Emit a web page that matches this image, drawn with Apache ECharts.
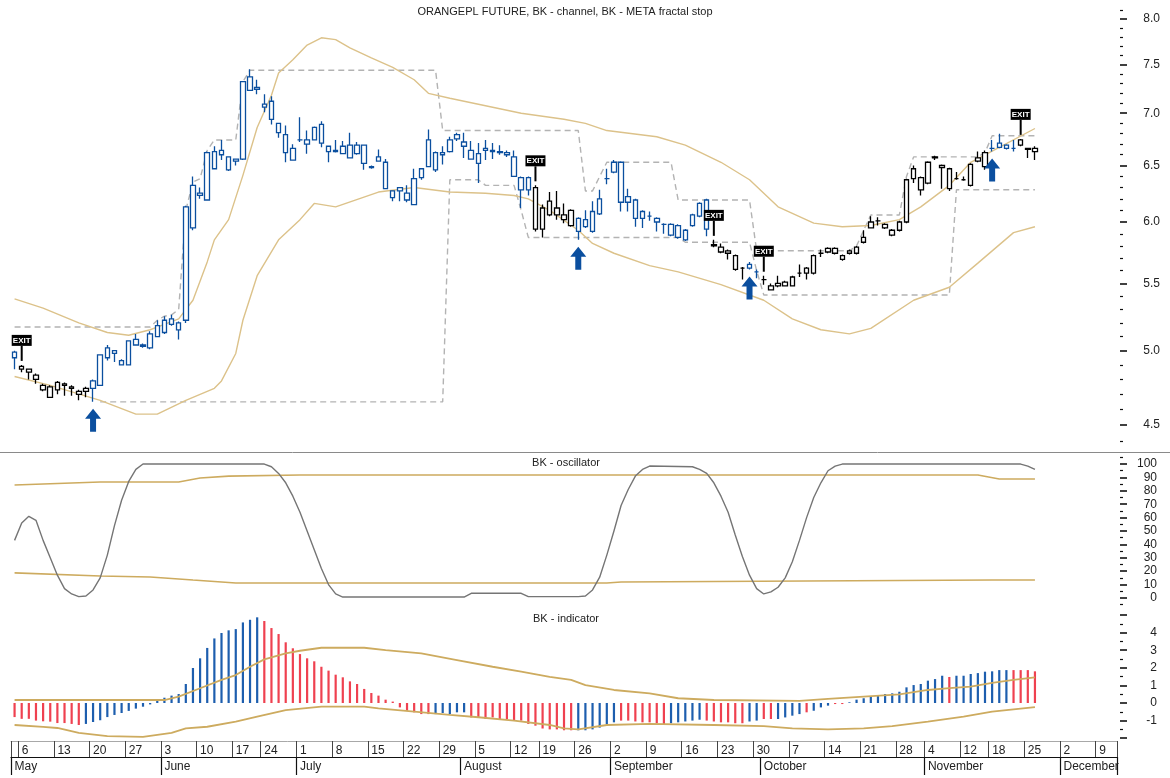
<!DOCTYPE html>
<html><head><meta charset="utf-8">
<script src="https://cdn.jsdelivr.net/npm/echarts@6/dist/echarts.min.js"></script>
<style>html,body{margin:0;padding:0;background:#fff}#c{width:1170px;height:778px}</style>
</head><body><div id="c"></div>
<script>
// ---------- calendar ----------
const firstDay = [2019, 4, 2];   // 2019-05-02
const lastDay  = [2019, 11, 11]; // 2019-12-11
const holidays = ['2019-05-03','2019-06-20','2019-08-15','2019-11-01','2019-11-11'];
const monthNames = ['January','February','March','April','May','June','July','August','September','October','November','December'];

// ---------- price data [open, high, low, close] ----------
const ohlc = [
[4.99,5.00,4.87,4.95],[4.87,4.90,4.85,4.89],[4.85,4.87,4.80,4.87],[4.80,4.84,4.77,4.83],[4.73,4.77,4.72,4.76],
[4.68,4.76,4.68,4.75],[4.73,4.79,4.70,4.78],[4.77,4.78,4.69,4.76],[4.75,4.76,4.69,4.74],[4.70,4.73,4.66,4.72],
[4.72,4.75,4.68,4.74],[4.74,4.80,4.65,4.79],[4.76,4.97,4.76,4.97],[4.95,5.04,4.93,5.02],[4.98,5.00,4.92,5.00],
[4.93,4.94,4.90,4.90],[4.90,5.07,4.90,5.07],[5.08,5.12,5.04,5.04],[5.04,5.05,5.02,5.03],[5.02,5.14,5.01,5.12],
[5.10,5.22,5.10,5.18],[5.13,5.25,5.12,5.22],[5.19,5.26,5.18,5.23],[5.20,5.21,5.08,5.15],[5.22,6.14,5.20,6.13],
[5.95,6.40,5.93,6.32],[6.23,6.30,6.20,6.25],[6.19,6.63,6.19,6.62],[6.47,6.68,6.47,6.63],[6.64,6.74,6.55,6.60],
[6.46,6.58,6.45,6.58],[6.54,6.56,6.50,6.56],[6.56,7.32,6.55,7.32],[7.37,7.45,7.23,7.23],[7.26,7.34,7.19,7.24],
[7.06,7.19,7.01,7.09],[7.12,7.17,6.89,6.94],[6.90,6.90,6.76,6.81],[6.79,6.88,6.53,6.62],[6.55,6.70,6.55,6.66],
[6.74,6.96,6.72,6.74],[6.70,6.83,6.61,6.74],[6.74,6.87,6.74,6.86],[6.89,6.92,6.67,6.71],[6.68,6.68,6.53,6.63],
[6.64,6.74,6.62,6.63],[6.61,6.73,6.61,6.68],[6.57,6.81,6.57,6.69],[6.61,6.72,6.60,6.69],[6.69,6.69,6.46,6.52],
[6.49,6.50,6.47,6.48],[6.58,6.65,6.54,6.54],[6.53,6.56,6.29,6.29],[6.27,6.27,6.18,6.21],[6.27,6.30,6.18,6.30],
[6.25,6.32,6.17,6.19],[6.15,6.47,6.15,6.38],[6.39,6.47,6.37,6.47],[6.74,6.84,6.49,6.49],[6.46,6.63,6.44,6.62],
[6.62,6.68,6.51,6.60],[6.63,6.77,6.62,6.74],[6.79,6.81,6.73,6.75],[6.72,6.81,6.57,6.68],[6.64,6.73,6.56,6.56],
[6.52,6.71,6.34,6.61],[6.64,6.74,6.55,6.66],[6.64,6.71,6.56,6.63],[6.63,6.69,6.60,6.62],[6.62,6.64,6.58,6.60],
[6.58,6.64,6.40,6.40],[6.28,6.40,6.12,6.39],[6.28,6.40,6.23,6.39],[6.30,6.32,5.92,5.94],[5.94,6.15,5.87,6.12],
[6.06,6.26,6.05,6.18],[6.12,6.27,6.02,6.06],[6.06,6.16,5.99,6.02],[6.10,6.11,5.96,5.97],[5.92,6.04,5.85,6.03],
[6.02,6.10,5.95,5.96],[5.92,6.18,5.91,6.09],[6.07,6.28,6.06,6.20],[6.38,6.47,6.33,6.38],[6.44,6.55,6.43,6.53],
[6.53,6.54,6.09,6.17],[6.22,6.29,6.09,6.17],[6.19,6.20,5.96,6.03],[6.03,6.10,5.95,6.09],[6.05,6.09,6.01,6.05],
[6.03,6.04,5.92,6.00],[5.98,5.99,5.90,5.98],[5.89,5.99,5.88,5.98],[5.97,5.98,5.86,5.87],[5.85,5.94,5.84,5.93],
[5.97,6.07,5.96,6.06],[6.05,6.17,6.04,6.16],[6.19,6.20,5.88,5.94],[5.81,5.85,5.79,5.80],[5.79,5.82,5.74,5.75],
[5.74,5.77,5.69,5.76],[5.72,5.73,5.60,5.61],[5.62,5.63,5.53,5.62],[5.62,5.67,5.61,5.65],[5.59,5.61,5.54,5.59],
[5.53,5.56,5.49,5.53],[5.45,5.50,5.45,5.48],[5.50,5.56,5.47,5.48],[5.51,5.52,5.48,5.48],[5.48,5.56,5.48,5.55],
[5.58,5.65,5.55,5.58],[5.62,5.63,5.53,5.58],[5.58,5.73,5.57,5.72],[5.74,5.77,5.71,5.74],[5.75,5.79,5.74,5.78],
[5.78,5.79,5.73,5.74],[5.69,5.73,5.68,5.72],[5.74,5.77,5.73,5.76],[5.74,5.80,5.73,5.79],[5.83,5.93,5.82,5.87],
[5.95,6.05,5.95,6.00],[6.01,6.04,5.97,6.01],[5.98,5.99,5.94,5.95],[5.93,5.94,5.88,5.89],[5.93,6.01,5.92,6.00],
[6.00,6.38,5.99,6.37],[6.47,6.50,6.34,6.38],[6.39,6.40,6.23,6.28],[6.34,6.54,6.33,6.53],[6.57,6.59,6.55,6.58],
[6.50,6.51,6.29,6.48],[6.47,6.48,6.27,6.29],[6.38,6.44,6.37,6.38],[6.37,6.40,6.36,6.37],[6.32,6.52,6.31,6.51],
[6.54,6.63,6.53,6.57],[6.49,6.64,6.46,6.62],[6.66,6.74,6.63,6.66],[6.71,6.80,6.66,6.67],[6.66,6.70,6.65,6.69],
[6.66,6.74,6.63,6.66],[6.74,6.75,6.68,6.69],[6.66,6.66,6.57,6.65],[6.63,6.68,6.55,6.66]
];
const blueRanges = [[0,0],[11,72],[79,97],[103,104],[137,140]];
const exitIdx = [1,73,98,105,141];
const buyIdx = [11,79,103,137];

// ---------- BK channel (price) [day index, value] ----------
const upperBand = [[0,5.38],[4,5.31],[9,5.20],[13,5.13],[16,5.11],[19,5.15],[21,5.19],[23,5.23],[25,5.37],[27,5.67],[28,5.85],[30,6.02],[32,6.41],[34,6.86],[36,7.18],[37,7.41],[39,7.55],[41,7.71],[43,7.79],[45,7.77],[47,7.68],[50,7.57],[53,7.47],[56,7.34],[58,7.20],[61,7.15],[65,7.09],[71,7.00],[77,6.94],[80,6.90],[83,6.83],[90,6.77],[94,6.69],[99,6.53],[103,6.37],[107,6.13],[112,5.99],[116,5.96],[120,5.97],[124,6.02],[127,6.13],[131,6.32],[134,6.53],[138,6.67],[143,6.85]];
const lowerBand = [[0,4.82],[5,4.76],[12,4.66],[17,4.57],[20,4.57],[24,4.66],[28,4.74],[29,4.79],[31,4.98],[32,5.22],[34,5.56],[37,5.85],[40,6.02],[42,6.16],[45,6.13],[51,6.26],[56,6.30],[61,6.26],[66,6.25],[70,6.23],[72,6.20],[75,6.10],[79,5.93],[81,5.82],[84,5.74],[89,5.64],[93,5.59],[99,5.49],[105,5.37],[109,5.23],[113,5.15],[117,5.12],[120,5.16],[126,5.37],[131,5.47],[135,5.66],[140,5.91],[143,5.96]];
// ---------- META fractal stop ----------
const upperStop = [[0,5.17],[19,5.17],[20,5.22],[21,5.25],[22,5.26],[23,5.30],[24,6.10],[25,6.35],[26,6.38],[27,6.64],[28,6.74],[31,6.74],[32,7.32],[33,7.44],[59,7.44],[60,6.83],[79,6.83],[80,6.27],[81,6.27],[82,6.40],[83,6.53],[92,6.53],[93,6.19],[103,6.19],[104,5.76],[117,5.76],[118,5.80],[119,5.93],[120,6.06],[124,6.06],[125,6.40],[126,6.58],[135,6.58],[136,6.62],[137,6.78],[143,6.78]];
const lowerStop = [[12,4.65],[60,4.65],[61,6.37],[65,6.37],[66,6.32],[70,6.32],[71,6.10],[72,5.87],[93,5.87],[94,5.83],[103,5.83],[104,5.60],[105,5.41],[131,5.41],[132,6.28],[143,6.28]];

// ---------- BK oscillator ----------
const oscillator = [[0,43],[1,56],[2,61],[3,58],[4,43],[5,30],[6,17],[7,7],[8,3],[9,1],[10,1.5],[11,6],[12,15],[13,32],[14,54],[15,73],[16,87],[17,96],[18,100],[35,100],[36,98],[37,93],[38,86],[39,76],[40,64],[41,50],[42,36],[43,22],[44,10],[45,3],[46,0.7],[63,0.7],[64,3.5],[71,3.5],[72,1],[79,1],[80,1.5],[81,6],[82,15.5],[83,32],[84,50],[85,69],[86,81],[87,91],[88,96],[89,98.5],[95,98],[96,96],[97,93],[98,86],[99,76],[100,64],[101,47],[102,31],[103,17],[104,7],[105,3],[106,4.5],[107,8],[108,15],[109,27],[110,43],[111,60],[112,75],[113,86],[114,95],[115,98.5],[116,100],[141,100],[142,98.5],[143,96]];
const oscUpper = [[0,84.3],[12,86.6],[23,86.6],[26,89.6],[30,91],[40,91.8],[135,91.8],[138,88.8],[143,88.8]];
const oscLower = [[0,18.7],[12,16.4],[19,15.7],[25,13.4],[31,11.2],[83,11.2],[85,11.9],[137,13.4],[143,13.4]];

// ---------- BK indicator ----------
const indicator = [
-0.8,-0.9,-0.9,-1.0,-1.04,-1.06,-1.14,-1.14,-1.19,-1.25,
-1.19,-1.08,-0.98,-0.80,-0.68,-0.57,-0.45,-0.32,-0.21,-0.08,
0.13,0.30,0.42,0.51,1.08,1.99,2.54,3.13,3.67,3.98,
4.13,4.20,4.58,4.73,4.87,4.66,4.26,3.92,3.45,3.11,
2.78,2.54,2.37,2.06,1.84,1.61,1.46,1.23,1.08,0.80,
0.57,0.42,0.19,0.08,-0.25,-0.44,-0.53,-0.63,-0.63,-0.63,
-0.57,-0.63,-0.53,-0.53,-0.82,-0.82,-0.91,-0.82,-0.91,-0.91,
-1.0,-1.0,-1.19,-1.29,-1.45,-1.5,-1.5,-1.55,-1.55,-1.55,
-1.55,-1.5,-1.4,-1.2,-1.1,-1.0,-1.0,-1.05,-1.1,-1.1,
-1.15,-1.2,-1.15,-1.1,-1.05,-1.0,-0.95,-1.0,-1.05,-1.1,
-1.1,-1.15,-1.15,-1.05,-1.0,-0.91,-0.91,-0.91,-0.82,-0.72,
-0.63,-0.53,-0.44,-0.25,-0.15,-0.06,-0.06,0.04,0.19,0.27,
0.38,0.45,0.51,0.55,0.64,0.89,1.02,1.08,1.27,1.36,
1.55,1.48,1.55,1.55,1.65,1.70,1.78,1.80,1.87,1.87,
1.87,1.87,1.87,1.80];
const indicatorColorRuns = [['r',10],['b',25],['r',24],['b',5],['r',15],['b',6],['r',7],['b',5],['r',6],['b',2],['r',2],['b',4],['r',1],['b',3],['r',2],['b',14],['r',1],['b',8],['r',4]];
const indUpper = [[0,0.17],[21,0.17],[23,0.36],[26,0.84],[29,1.31],[31,1.59],[33,2.06],[35,2.48],[38,2.82],[40,2.97],[43,3.14],[49,3.14],[52,3.0],[57,2.82],[62,2.44],[67,2.06],[71,1.78],[75,1.49],[78,1.31],[80,1.02],[84,0.74],[89,0.55],[93,0.27],[98,0.17],[110,0.12],[114,0.24],[124,0.49],[128,0.74],[131,0.85],[134,0.93],[137,1.14],[140,1.31],[143,1.46]];
const indLower = [[0,-1.25],[4,-1.36],[6,-1.42],[9,-1.7],[13,-1.88],[18,-1.93],[22,-1.7],[24,-1.44],[27,-1.35],[31,-1.06],[34,-0.78],[38,-0.40],[43,-0.21],[49,-0.21],[51,-0.3],[56,-0.49],[61,-0.68],[65,-0.81],[70,-1.0],[75,-1.25],[77,-1.44],[79,-1.5],[83,-1.25],[89,-1.19],[98,-1.25],[105,-1.31],[109,-1.44],[114,-1.5],[119,-1.44],[123,-1.31],[128,-1.06],[133,-0.78],[137,-0.49],[143,-0.24]];

// ---------- axis ticks ----------
const priceLabels = ['4.5','5.0','5.5','6.0','6.5','7.0','7.5','8.0'];
const priceMinor = ['4.4','4.6','4.7','4.8','4.9','5.1','5.2','5.3','5.4','5.6','5.7','5.8','5.9','6.1','6.2','6.3','6.4','6.6','6.7','6.8','6.9','7.1','7.2','7.3','7.4','7.6','7.7','7.8','7.9','8.1'];
const oscLabels = [0,10,20,30,40,50,60,70,80,90,100];
const oscMinor = [-5,5,15,25,35,45,55,65,75,85,95,105];
const indLabels = [-1,0,1,2,3,4];
const indMajorTicks = [-2,-1,0,1,2,3,4,5];
const indMinor = [-1.5,-0.5,0.5,1.5,2.5,3.5,4.5];

// ================= build =================
const dates = [];
(function(){
  const d = new Date(Date.UTC(firstDay[0],firstDay[1],firstDay[2]));
  const e = new Date(Date.UTC(lastDay[0],lastDay[1],lastDay[2]));
  while (d <= e) {
    const wd = d.getUTCDay();
    const s = d.toISOString().slice(0,10);
    if (wd !== 0 && wd !== 6 && holidays.indexOf(s) < 0) dates.push(s);
    d.setUTCDate(d.getUTCDate()+1);
  }
})();
const toDate = s => new Date(s + 'T00:00:00Z');
const isWeekStart = i => {
  if (i === 0) return true;
  const a = toDate(dates[i-1]), b = toDate(dates[i]);
  return b.getUTCDay() <= a.getUTCDay() || (b - a) >= 7*86400000;
};
const isMonthStart = i => i === 0 || dates[i].slice(5,7) !== dates[i-1].slice(5,7);

const BLUE = '#0b4f9f', TAN = '#dcc28a', TAN2 = '#cdab5f', GRAY = '#b3b3b3';
const FONT = 'Liberation Sans';
const L = Math.log;
const isBlue = i => blueRanges.some(r => i >= r[0] && i <= r[1]);

const candleData = ohlc.map((r,i) => {
  const c = isBlue(i) ? BLUE : '#000';
  return {value:[L(r[0]), L(r[3]), L(r[2]), L(r[1])],
          itemStyle:{color:'#fff', color0:c, borderColor:c, borderColor0:c, borderColorDoji:c}};
});
const lnPairs = arr => arr.map(p => [p[0], L(p[1])]);

const indColors = [];
indicatorColorRuns.forEach(r => { for (let k=0;k<r[1];k++) indColors.push(r[0]); });
const indData = indicator.map((v,i) => ({value:v, itemStyle:{color: indColors[i]==='b' ? '#1d5eae' : '#ef4150'}}));

const lnMax = L(8) + 16/705.6, lnMin = L(8) - 433/705.6;

function yAx(grid, min, max, ticks, len, width, labels, fmt, margin) {
  return {
    gridIndex: grid, type:'value', position:'right', offset:3, min:min, max:max,
    axisLine:{show:false}, splitLine:{show:false},
    axisTick:{show:true, customValues:ticks, length:len, lineStyle:{color:'#111', width:width}},
    axisLabel: labels ? {show:true, customValues:labels, formatter:fmt, align:'right', margin:margin,
                         fontFamily:FONT, fontSize:12, color:'#222'} : {show:false}
  };
}

const option = {
  animation:false,
  backgroundColor:'#fff',
  grid:[
    {left:11, width:1106, top:3, height:449},
    {left:11, width:1106, top:452, height:156},
    {left:11, width:1106, top:608, height:133}
  ],
  xAxis:[
    {gridIndex:0, type:'category', data:dates, boundaryGap:true, show:false},
    {gridIndex:1, type:'category', data:dates, boundaryGap:true, show:false},
    {gridIndex:2, type:'category', data:dates, boundaryGap:true, position:'bottom',
     axisLine:{show:true, onZero:false, lineStyle:{color:'#a8a8a8', width:1}},
     axisTick:{show:true, interval:(i)=>isWeekStart(i), length:16, lineStyle:{color:'#444', width:1}},
     axisLabel:{interval:(i)=>isWeekStart(i) && i>0, formatter:(v)=>String(+v.slice(8)), align:'left', margin:4,
                fontFamily:FONT, fontSize:12, color:'#222'},
     splitLine:{show:false}},
    {gridIndex:2, type:'category', data:dates, boundaryGap:true, position:'bottom', offset:16,
     axisLine:{show:true, onZero:false, lineStyle:{color:'#111', width:1.2}},
     axisTick:{show:true, interval:(i)=>isMonthStart(i), length:18, lineStyle:{color:'#111', width:1.2}},
     axisLabel:{interval:(i)=>isMonthStart(i), formatter:(v)=>monthNames[+v.slice(5,7)-1], align:'left', margin:4,
                fontFamily:FONT, fontSize:12, color:'#222'},
     splitLine:{show:false}}
  ],
  yAxis:[
    yAx(0, lnMin, lnMax, priceLabels.map(s=>L(+s)), 7, 1.6, priceLabels.map(s=>L(+s)), v=>Math.exp(v).toFixed(1), 40),
    yAx(0, lnMin, lnMax, priceMinor.map(s=>L(+s)), 3, 1.2, null),
    yAx(1, -7.5, 109, oscLabels, 7, 1.6, oscLabels, v=>String(Math.round(v)), 37),
    yAx(1, -7.5, 109, oscMinor, 3, 1.2, null),
    yAx(2, -2.16, 5.40, indMajorTicks, 7, 1.6, indLabels, v=>String(Math.round(v)), 37),
    yAx(2, -2.16, 5.40, indMinor, 3, 1.2, null)
  ],
  series:[
    {type:'line', xAxisIndex:0, yAxisIndex:0, data:lnPairs(upperStop), symbol:'none', lineStyle:{color:GRAY, width:1.4, type:[6,4]}, z:1},
    {type:'line', xAxisIndex:0, yAxisIndex:0, data:lnPairs(lowerStop), symbol:'none', lineStyle:{color:GRAY, width:1.4, type:[6,4]}, z:1},
    {type:'line', xAxisIndex:0, yAxisIndex:0, data:lnPairs(upperBand), symbol:'none', lineStyle:{color:TAN, width:1.4}, z:2},
    {type:'line', xAxisIndex:0, yAxisIndex:0, data:lnPairs(lowerBand), symbol:'none', lineStyle:{color:TAN, width:1.4}, z:2},
    {type:'candlestick', xAxisIndex:0, yAxisIndex:0, data:candleData, barWidth:5, itemStyle:{borderWidth:1.3}, z:3},
    {type:'custom', xAxisIndex:0, yAxisIndex:0, z:5,
     data: exitIdx.map(i => [i, L(ohlc[i][1])]),
     renderItem:(params, api) => {
       const p = api.coord([api.value(0), api.value(1)]);
       return {type:'group', children:[
         {type:'line', shape:{x1:p[0], y1:p[1]-4, x2:p[0], y2:p[1]-19}, style:{stroke:'#000', lineWidth:2}},
         {type:'rect', shape:{x:p[0]-10, y:p[1]-30, width:20, height:11}, style:{fill:'#000'}},
         {type:'text', style:{text:'EXIT', x:p[0], y:p[1]-24.3, fill:'#fff', font:'bold 8px Liberation Sans', align:'center', verticalAlign:'middle'}}
       ]};
     }},
    {type:'custom', xAxisIndex:0, yAxisIndex:0, z:5,
     data: buyIdx.map(i => [i, L(ohlc[i][2])]),
     renderItem:(params, api) => {
       const p = api.coord([api.value(0), api.value(1)]);
       const x = p[0], t = p[1] + 7;
       return {type:'polygon', shape:{points:[[x,t],[x+8,t+10],[x+3,t+10],[x+3,t+23],[x-3,t+23],[x-3,t+10],[x-8,t+10]]},
               style:{fill:BLUE}};
     }},
    {type:'line', xAxisIndex:1, yAxisIndex:2, data:oscUpper, symbol:'none', lineStyle:{color:TAN2, width:1.6}},
    {type:'line', xAxisIndex:1, yAxisIndex:2, data:oscLower, symbol:'none', lineStyle:{color:TAN2, width:1.6}},
    {type:'line', xAxisIndex:1, yAxisIndex:2, data:oscillator, symbol:'none', lineStyle:{color:'#757575', width:1.4}},
    {type:'bar', xAxisIndex:2, yAxisIndex:4, data:indData, barWidth:2.2},
    {type:'line', xAxisIndex:2, yAxisIndex:4, data:indUpper, symbol:'none', lineStyle:{color:TAN2, width:1.8}},
    {type:'line', xAxisIndex:2, yAxisIndex:4, data:indLower, symbol:'none', lineStyle:{color:TAN2, width:1.8}}
  ],
  graphic:[
    {type:'line', shape:{x1:0, y1:452.5, x2:1170, y2:452.5}, style:{stroke:'#8a8a8a', lineWidth:1}, silent:true},
    {type:'text', style:{text:'ORANGEPL FUTURE, BK - channel, BK - META fractal stop', x:565, y:12, align:'center', verticalAlign:'middle', font:'11px Liberation Sans', fill:'#222'}},
    {type:'text', style:{text:'BK - oscillator', x:566, y:463, align:'center', verticalAlign:'middle', font:'11px Liberation Sans', fill:'#222'}},
    {type:'text', style:{text:'BK - indicator', x:566, y:619, align:'center', verticalAlign:'middle', font:'11px Liberation Sans', fill:'#222'}}
  ]
};
const chart = echarts.init(document.getElementById('c'), null, {renderer:'canvas'});
chart.setOption(option);
</script>
</body></html>
